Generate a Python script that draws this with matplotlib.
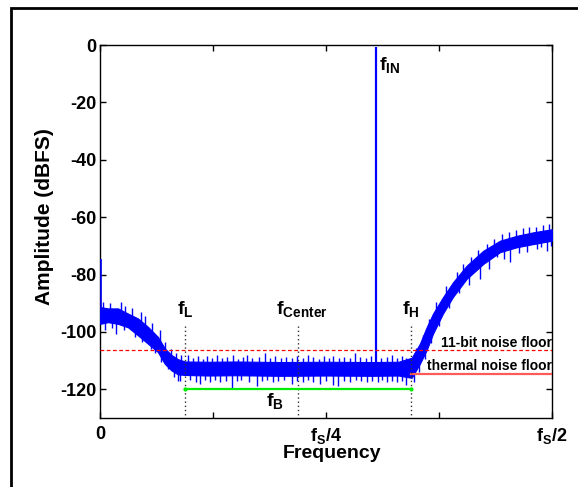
import matplotlib
matplotlib.use("Agg")
import matplotlib.pyplot as plt
from matplotlib.patches import Rectangle
import numpy as np

plt.rcParams['font.family'] = ['Liberation Sans', 'DejaVu Sans']
plt.rcParams['font.weight'] = 'bold'
plt.rcParams['mathtext.fontset'] = 'custom'
plt.rcParams['mathtext.rm'] = 'Liberation Sans:bold'
plt.rcParams['mathtext.bf'] = 'Liberation Sans:bold'
plt.rcParams['mathtext.it'] = 'Liberation Sans:bold'

# ---- data (frequency normalised to fs = 1, so fs/2 = 0.5) ----
# solid core of the noise trace (upper / lower edge)
env_freq = [0.0, 0.0088, 0.0199, 0.031, 0.042, 0.053, 0.064, 0.0716, 0.0789, 0.0863,
            0.094, 0.12, 0.15, 0.2, 0.25, 0.3, 0.33, 0.3448, 0.354, 0.3614, 0.3684,
            0.3794, 0.3905, 0.4056, 0.424, 0.4425, 0.461, 0.479, 0.5]
env_upper = [-91.3, -91.8, -91.8, -93.6, -95.3, -98.2, -101.7, -105.7, -108.0, -109.5,
             -110.3, -110.4, -110.3, -110.5, -110.4, -110.5, -110.4, -109.0, -104.0, -98.3, -93.6,
             -87.9, -82.7, -76.9, -71.7, -68.2, -66.5, -65.3, -64.2]
env_lower = [-97.2, -96.6, -97.2, -98.4, -101.2, -104.1, -107.0, -111.1, -113.4, -114.8,
             -115.0, -115.2, -115.1, -115.3, -115.2, -115.3, -115.2, -116.0, -111.0, -106.3, -100.6,
             -93.6, -87.8, -81.5, -76.3, -72.2, -70.5, -69.4, -68.2]

# individual noise excursions
peak_freq = [0.003, 0.011, 0.0236, 0.028, 0.035, 0.045, 0.05, 0.058, 0.066, 0.072, 0.078, 0.084, 0.09,
             0.097, 0.103, 0.108, 0.114, 0.118, 0.124, 0.129, 0.135, 0.141, 0.1475, 0.153, 0.158,
             0.1623, 0.168, 0.1755, 0.1825, 0.188, 0.194, 0.2, 0.206, 0.212, 0.218, 0.2245, 0.2304,
             0.236, 0.242, 0.248, 0.253, 0.258, 0.264, 0.27, 0.276, 0.282, 0.288, 0.294, 0.3, 0.311,
             0.317, 0.3227, 0.328, 0.334, 0.339,
             0.35, 0.357, 0.364, 0.372, 0.383, 0.395, 0.402, 0.41, 0.418, 0.428, 0.436, 0.445,
             0.452, 0.46, 0.468, 0.475, 0.482, 0.49, 0.497]
peak_val = [-89.5, -90.0, -89.6, -91.0, -91.8, -93.0, -94.5, -97.0, -99.5, -103.5, -106.0, -107.5, -108.0,
            -108.0, -109.0, -108.5, -109.5, -108.5, -109.2, -108.0, -109.0, -108.7, -108.0, -109.3, -108.8,
            -108.0, -109.0, -108.6, -107.5, -109.0, -108.4, -109.2, -108.6, -109.0, -108.3, -109.1, -108.0,
            -108.9, -109.3, -108.5, -109.0, -108.5, -109.2, -108.7, -109.0, -107.5, -108.9, -109.2, -108.4, -109.0,
            -108.6, -108.0, -109.1, -108.5, -109.0,
            -105.5, -101.0, -95.5, -89.5, -84.0, -79.0, -76.5, -74.0, -71.5, -69.5, -67.5, -66.0,
            -65.0, -64.5, -63.8, -63.5, -63.5, -62.8, -62.5]
dip_freq = [0.0052, 0.013, 0.018, 0.026, 0.0384, 0.047, 0.056, 0.061, 0.068, 0.075, 0.082, 0.0865,
            0.0885, 0.1, 0.106, 0.1106, 0.116, 0.122, 0.127, 0.133, 0.139, 0.1457, 0.151, 0.156, 0.1645,
            0.1733, 0.179, 0.185, 0.191, 0.197, 0.203, 0.212, 0.218, 0.2246, 0.23, 0.236, 0.243, 0.25,
            0.2577, 0.2636, 0.27, 0.276, 0.283, 0.289, 0.295, 0.301, 0.307, 0.312, 0.317, 0.323, 0.329,
            0.334, 0.339,
            0.3475, 0.353, 0.359, 0.366, 0.375, 0.386, 0.397, 0.408, 0.4204, 0.43, 0.4388, 0.447,
            0.4535, 0.464, 0.472, 0.483, 0.488, 0.494, 0.499]
dip_val = [-99.4, -98.8, -100.6, -99.5, -101.7, -103.5, -106.0, -107.5, -110.5, -113.0, -115.8, -117.0,
           -117.0, -116.8, -117.3, -118.0, -116.9, -117.5, -116.8, -117.6, -117.0, -119.5, -117.2, -116.8, -117.4,
           -119.0, -117.0, -116.9, -117.5, -117.2, -116.8, -118.0, -117.0, -117.5, -116.9, -117.3, -118.0, -117.1,
           -118.5, -119.0, -117.0, -117.4, -116.9, -117.2, -117.5, -117.0, -117.3, -116.8, -117.5, -117.0, -117.3,
           -117.0, -118.5,
           -117.5, -114.0, -109.5, -104.0, -98.0, -91.5, -86.5, -83.5, -81.5, -78.0, -74.0, -74.5,
           -75.7, -72.5, -72.0, -71.1, -70.5, -71.7, -70.0]

dc_spike = -74.6
f_in, f_in_level = 0.305, -0.7
f_L, f_center, f_H = 0.094, 0.219, 0.344
floor_11bit = -106.4
floor_thermal = -114.8
band_level = -120.0

yticks = [0, -20, -40, -60, -80, -100, -120]
xticks = [0, 0.125, 0.25, 0.375, 0.5]
xticklabels = ['0', '', r'$\mathregular{f_S/4}$', '', r'$\mathregular{f_S/2}$']

# ---- figure ----
fig = plt.figure(figsize=(5.78, 4.87), dpi=100)
fig.add_artist(Rectangle((10.5/578, -0.5), 2.0, 0.5 + 1 - 7.5/487, transform=fig.transFigure,
                         fill=False, lw=2.0, ec='black', clip_on=False))
ax = fig.add_axes([100/578, 1 - 418/487, 452/578, 373/487])

blue = (0, 0, 1)
ax.fill_between(env_freq, env_lower, env_upper, color=blue, lw=0.8, zorder=3)
mid_all = (np.array(env_upper) + np.array(env_lower)) / 2
ax.vlines(peak_freq, np.interp(peak_freq, env_freq, mid_all), peak_val, color=blue, lw=1.0, zorder=3)
ax.vlines(dip_freq, np.interp(dip_freq, env_freq, mid_all), dip_val, color=blue, lw=1.0, zorder=3)
ax.vlines([0.0008], env_upper[0], dc_spike, color=blue, lw=1.2, zorder=3)
ax.vlines([f_in], -112, f_in_level, color=blue, lw=1.6, zorder=3)

# noise floors
ax.axhline(floor_11bit, color='red', lw=0.9, ls=(0, (3, 2)), zorder=4)
ax.plot([f_H, 0.5], [floor_thermal, floor_thermal], color='#ff5a5a', lw=1.6, zorder=4)

# band markers
for fx in (f_L, f_center, f_H):
    ax.plot([fx, fx], [-98, -130], color='#333333', lw=1.0, ls=(0, (1, 2)), zorder=5)
ax.plot([f_L, f_H], [band_level, band_level], color='#00ee00', lw=1.6, marker='.',
        markersize=4, zorder=5)

fs_lab = 14
ax.text(f_L, -95.5, r'$\mathregular{f_L}$', ha='center', va='bottom', fontsize=fs_lab)
ax.text(0.2235, -95.5, r'$\mathregular{f_{Center}}$', ha='center', va='bottom', fontsize=fs_lab)
ax.text(f_H, -95.5, r'$\mathregular{f_H}$', ha='center', va='bottom', fontsize=fs_lab)
ax.text(0.3085, -3.5, r'$\mathregular{f_{IN}}$', ha='left', va='top', fontsize=fs_lab)
ax.text(0.1936, -124.0, r'$\mathregular{f_B}$', ha='center', va='center', fontsize=fs_lab)
ax.text(0.4995, -103.7, '11-bit noise floor', ha='right', va='center', fontsize=10,
        fontweight='bold')
ax.text(0.4995, -112.0, 'thermal noise floor', ha='right', va='center', fontsize=10,
        fontweight='bold')

ax.set_xlim(0, 0.5)
ax.set_ylim(-130, 0)
ax.set_yticks(yticks)
ax.set_yticklabels([str(v) for v in yticks])
ax.set_xticks(xticks)
ax.set_xticklabels(xticklabels)
ax.tick_params(direction='in', top=True, right=True, length=4, width=1.0, labelsize=13)
ax.tick_params(axis='y', pad=2.5)
ax.tick_params(axis='x', pad=6)
for lab in ax.get_xticklabels() + ax.get_yticklabels():
    lab.set_fontweight('bold')
for s in ax.spines.values():
    s.set_linewidth(1.0)
ax.set_xlabel('Frequency', fontsize=14, fontweight='bold')
ax.set_ylabel('Amplitude (dBFS)', fontsize=15, fontweight='bold')
ax.xaxis.set_label_coords((332 - 100) / 452, (418 - 454) / 373)
ax.xaxis.label.set_va('center')
ax.yaxis.set_label_coords((45 - 100) / 452, (418 - 217) / 373)
ax.yaxis.label.set_va('center')

fig.savefig('out.png', dpi=100)
